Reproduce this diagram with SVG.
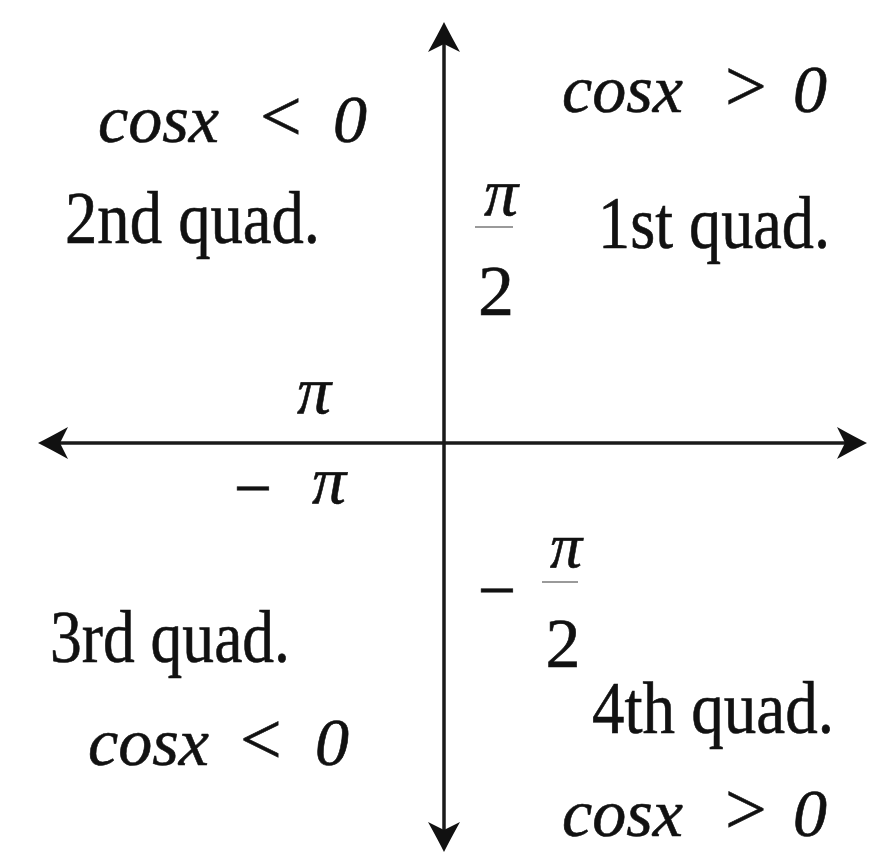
<svg xmlns="http://www.w3.org/2000/svg" width="869" height="852" viewBox="0 0 869 852">
<style>
.t{font-family:"Liberation Serif","Times New Roman",serif;fill:#111;stroke:#111;stroke-width:0.6;}
.i{font-style:italic;font-size:68px;}
.u{font-size:68px;}
.r{font-size:74px;}
.q{font-size:73px;}
.bar{stroke:#9a9a9a;stroke-width:2;}
.axis{stroke:#1a1a1a;stroke-width:3.5;fill:none;}
</style>
<defs>
<marker id="ah" markerUnits="userSpaceOnUse" viewBox="-16 -18 34 36" refX="0" refY="0" markerWidth="34" markerHeight="36" orient="auto-start-reverse">
<path d="M16,0 Q4,-6 -14,-16 L-6,0 L-14,16 Q4,6 16,0 Z" fill="#111"/>
</marker>
</defs>
<rect width="869" height="852" fill="#fff"/>
<g id="connectors">
<line class="axis" x1="444" y1="38" x2="444" y2="836" marker-start="url(#ah)" marker-end="url(#ah)"/>
<line class="axis" x1="54" y1="443" x2="851" y2="443" marker-start="url(#ah)" marker-end="url(#ah)"/>
</g>
<g id="q2">
<text class="t i" x="98" y="142">cosx</text>
<text class="t r" x="260" y="141">&lt;</text>
<text class="t i" x="333" y="142">0</text>
<text class="t q" x="65" y="243" textLength="255" lengthAdjust="spacingAndGlyphs">2nd quad.</text>
</g>
<g id="q1">
<text class="t i" x="562" y="112">cosx</text>
<text class="t r" x="725" y="111">&gt;</text>
<text class="t i" x="793" y="112">0</text>
<text class="t q" x="598" y="248" textLength="232" lengthAdjust="spacingAndGlyphs">1st quad.</text>
</g>
<g id="q3">
<text class="t q" x="50" y="662" textLength="240" lengthAdjust="spacingAndGlyphs">3rd quad.</text>
<text class="t i" x="88" y="765">cosx</text>
<text class="t r" x="240" y="764">&lt;</text>
<text class="t i" x="315" y="765">0</text>
</g>
<g id="q4">
<text class="t q" x="592" y="733" textLength="242" lengthAdjust="spacingAndGlyphs">4th quad.</text>
<text class="t i" x="562" y="836">cosx</text>
<text class="t r" x="725" y="834">&gt;</text>
<text class="t i" x="793" y="836">0</text>
</g>
<g id="pi-half">
<text class="t i" x="501" y="215" text-anchor="middle" style="font-size:68px">π</text>
<line class="bar" x1="475" y1="227" x2="513" y2="227"/>
<text class="t" x="496" y="315" text-anchor="middle" style="font-size:72px">2</text>
</g>
<g id="neg-pi-half">
<text class="t u" x="497" y="613" text-anchor="middle">−</text>
<text class="t i" x="566" y="567" text-anchor="middle" style="font-size:64px">π</text>
<line class="bar" x1="542" y1="582" x2="578" y2="582"/>
<text class="t" x="563" y="667" text-anchor="middle" style="font-size:70px">2</text>
</g>
<g id="pi">
<text class="t i" x="314" y="413" text-anchor="middle" style="font-size:68px">π</text>
</g>
<g id="neg-pi">
<text class="t u" x="253" y="511" text-anchor="middle">−</text>
<text class="t i" x="329" y="503" text-anchor="middle" style="font-size:68px">π</text>
</g>
</svg>
